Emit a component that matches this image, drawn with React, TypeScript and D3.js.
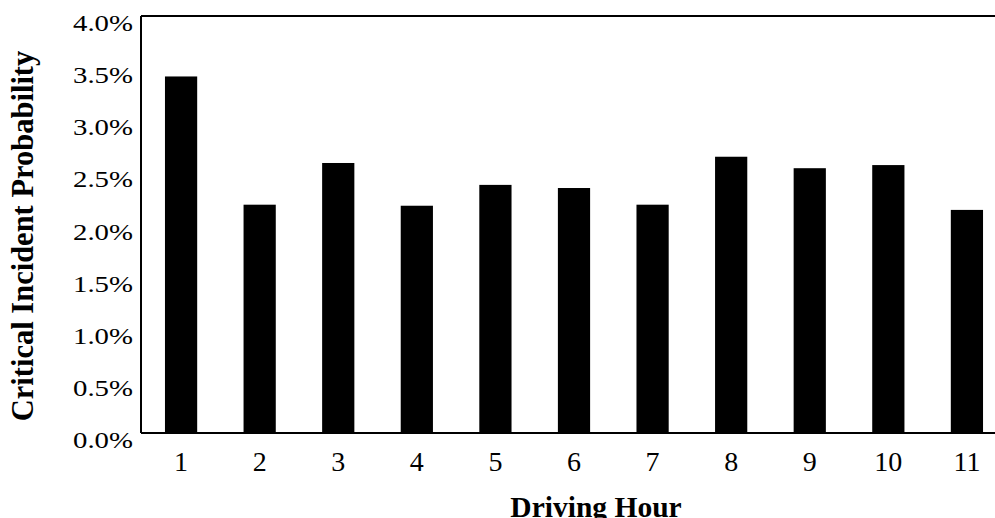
import React from 'react';
import * as d3 from 'd3';

const hours = ['1', '2', '3', '4', '5', '6', '7', '8', '9', '10', '11'];
const probability = [0.0342, 0.0219, 0.0259, 0.0218, 0.0238, 0.0235, 0.0219, 0.0265, 0.0254, 0.0257, 0.0214];
const yTicks = [0, 0.005, 0.01, 0.015, 0.02, 0.025, 0.03, 0.035, 0.04];

const App = () => {
  const width = 995;
  const height = 518;
  const left = 141;
  const top = 16;
  const bottom = 433;

  const x = d3.scaleBand<string>()
    .domain(hours)
    .range([left, 1007])
    .paddingInner(0.59)
    .paddingOuter(0.305);

  const y = d3.scaleLinear()
    .domain([0, 0.04])
    .range([bottom, top]);

  const fmt = d3.format('.1%');
  const serif = '"Liberation Serif", "Times New Roman", serif';

  return (
    <div style={{ position: 'absolute', left: 0, top: 0, width, height }}>
      <svg width={width} height={height} style={{ display: 'block', background: '#fff' }}>
        {/* bars */}
        {probability.map((v, i) => (
          <rect
            key={hours[i]}
            x={x(hours[i])}
            y={y(v)}
            width={x.bandwidth()}
            height={bottom - y(v)}
            fill="#000"
          />
        ))}

        {/* frame: left, top, bottom */}
        <line x1={left} x2={left} y1={top} y2={bottom} stroke="#000" strokeWidth={2} />
        <line x1={left} x2={width} y1={top} y2={top} stroke="#000" strokeWidth={2} />
        <line x1={left} x2={width} y1={bottom} y2={bottom} stroke="#000" strokeWidth={2} />

        {/* y tick labels */}
        {yTicks.map(t => (
          <text
            key={t}
            x={133}
            y={y(t) + 15}
            textAnchor="end"
            fontFamily={serif}
            fontSize={23}
            textLength={60}
            lengthAdjust="spacingAndGlyphs"
          >
            {fmt(t)}
          </text>
        ))}

        {/* x tick labels */}
        {hours.map(h => (
          <text
            key={h}
            x={(x(h) ?? 0) + x.bandwidth() / 2}
            y={471}
            textAnchor="middle"
            fontFamily={serif}
            fontSize={28}
          >
            {h}
          </text>
        ))}

        {/* axis titles */}
        <text
          transform={`translate(33,236) rotate(-90)`}
          textAnchor="middle"
          fontFamily={serif}
          fontWeight="bold"
          fontSize={30.5}
        >
          Critical Incident Probability
        </text>
        <text
          x={596}
          y={517}
          textAnchor="middle"
          fontFamily={serif}
          fontWeight="bold"
          fontSize={29.5}
        >
          Driving Hour
        </text>
      </svg>
    </div>
  );
};

export default App;
